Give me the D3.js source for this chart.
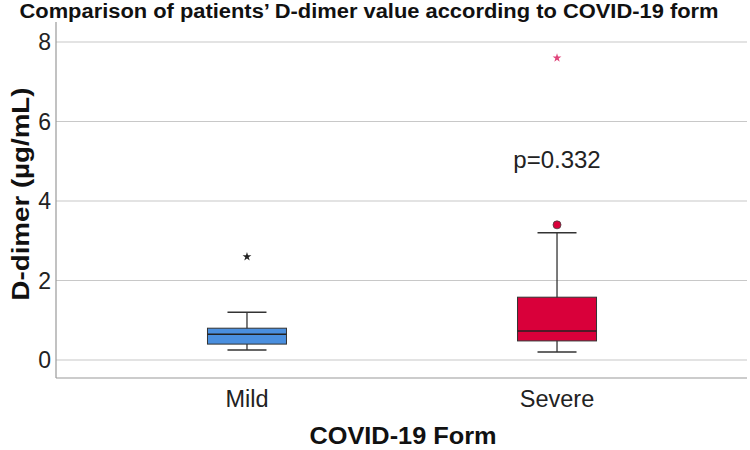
<!DOCTYPE html>
<html>
<head>
<meta charset="utf-8">
<script src="https://cdn.jsdelivr.net/npm/d3@7"></script>
<style>
  body { margin: 0; background: #fff; }
  svg { font-family: "Liberation Sans", Arial, sans-serif; }
</style>
</head>
<body>
<div id="chart"></div>
<script>
// values
const groups = ["Mild", "Severe"];
const q1 = [0.4, 0.48];
const medians = [0.65, 0.73];
const q3 = [0.8, 1.58];
const whiskerLow = [0.25, 0.2];
const whiskerHigh = [1.2, 3.2];
const outliers = [[], [3.4]];      // circles
const extremes = [[2.6], [7.6]];   // stars
const yTicks = [0, 2, 4, 6, 8];
const boxColors = ["#4a8fdf", "#d9003a"];
const starColors = ["#222222", "#e0457b"];

const width = 750, height = 450;
const margin = { top: 22, right: 2, bottom: 72, left: 56 };

const svg = d3.select("#chart").append("svg")
    .attr("width", width)
    .attr("height", height);

const x = d3.scalePoint()
    .domain(groups)
    .range([margin.left, width - margin.right])
    .padding(0.616);

const y = d3.scaleLinear()
    .domain([0, 8])
    .range([360, 42]);

const bottomY = height - margin.bottom; // 378

// grid lines
svg.append("g")
    .selectAll("line")
    .data(yTicks)
    .join("line")
    .attr("x1", margin.left)
    .attr("x2", width - 3)
    .attr("y1", d => y(d))
    .attr("y2", d => y(d))
    .attr("stroke", "#c8c8c8")
    .attr("stroke-width", 1.2);

// y axis labels
svg.append("g")
    .selectAll("text")
    .data(yTicks)
    .join("text")
    .attr("x", margin.left - 5)
    .attr("y", d => y(d))
    .attr("dy", "0.36em")
    .attr("text-anchor", "end")
    .attr("font-size", 23)
    .attr("fill", "#222")
    .text(d => d);

// axis lines
svg.append("line")
    .attr("x1", margin.left).attr("x2", margin.left)
    .attr("y1", margin.top).attr("y2", bottomY)
    .attr("stroke", "#999").attr("stroke-width", 1.2);
svg.append("line")
    .attr("x1", margin.left).attr("x2", width - 3)
    .attr("y1", bottomY).attr("y2", bottomY)
    .attr("stroke", "#999").attr("stroke-width", 1.2);

// x labels
svg.append("g")
    .selectAll("text")
    .data(groups)
    .join("text")
    .attr("x", d => x(d))
    .attr("y", 407)
    .attr("text-anchor", "middle")
    .attr("font-size", 23.5)
    .attr("fill", "#222")
    .text(d => d);

// boxes
const boxW = 79, capW = 39;
const g = svg.append("g")
    .selectAll("g")
    .data(groups)
    .join("g");

g.append("line")
    .attr("x1", d => x(d)).attr("x2", d => x(d))
    .attr("y1", (d, i) => y(whiskerHigh[i]))
    .attr("y2", (d, i) => y(whiskerLow[i]))
    .attr("stroke", "#333").attr("stroke-width", 1.3);

g.selectAll(".cap")
    .data((d, i) => [whiskerLow[i], whiskerHigh[i]].map(v => ({ d, v })))
    .join("line")
    .attr("class", "cap")
    .attr("x1", e => x(e.d) - capW / 2)
    .attr("x2", e => x(e.d) + capW / 2)
    .attr("y1", e => y(e.v))
    .attr("y2", e => y(e.v))
    .attr("stroke", "#333").attr("stroke-width", 1.5);

g.append("rect")
    .attr("x", d => x(d) - boxW / 2)
    .attr("width", boxW)
    .attr("y", (d, i) => y(q3[i]))
    .attr("height", (d, i) => y(q1[i]) - y(q3[i]))
    .attr("fill", (d, i) => boxColors[i])
    .attr("stroke", "#333").attr("stroke-width", 1);

g.append("line")
    .attr("x1", d => x(d) - boxW / 2)
    .attr("x2", d => x(d) + boxW / 2)
    .attr("y1", (d, i) => y(medians[i]))
    .attr("y2", (d, i) => y(medians[i]))
    .attr("stroke", "#222").attr("stroke-width", 1.5);

// outlier circles
g.selectAll(".out")
    .data((d, i) => outliers[i].map(v => ({ d, v, i })))
    .join("circle")
    .attr("class", "out")
    .attr("cx", e => x(e.d))
    .attr("cy", e => y(e.v))
    .attr("r", 4)
    .attr("fill", e => boxColors[e.i])
    .attr("stroke", "#444").attr("stroke-width", 0.8);

// extreme stars
const star = d3.symbol().type(d3.symbolStar).size(24);
g.selectAll(".ext")
    .data((d, i) => extremes[i].map(v => ({ d, v, i })))
    .join("path")
    .attr("class", "ext")
    .attr("d", star)
    .attr("transform", e => `translate(${x(e.d)},${y(e.v)})`)
    .attr("fill", e => starColors[e.i]);

// p-value annotation
svg.append("text")
    .attr("x", x("Severe"))
    .attr("y", 168)
    .attr("text-anchor", "middle")
    .attr("font-size", 24)
    .attr("fill", "#222")
    .text("p=0.332");

// titles
svg.append("text")
    .attr("x", 369)
    .attr("y", 18)
    .attr("text-anchor", "middle")
    .attr("font-size", 20)
    .attr("font-weight", "bold")
    .attr("fill", "#111")
    .attr("textLength", 699)
    .attr("lengthAdjust", "spacingAndGlyphs")
    .text("Comparison of patients\u2019 D-dimer value according to COVID-19 form");

svg.append("text")
    .attr("x", 403)
    .attr("y", 444)
    .attr("text-anchor", "middle")
    .attr("font-size", 23)
    .attr("font-weight", "bold")
    .attr("fill", "#111")
    .attr("textLength", 187)
    .attr("lengthAdjust", "spacingAndGlyphs")
    .text("COVID-19 Form");

svg.append("text")
    .attr("transform", "translate(21,194) rotate(-90)")
    .attr("text-anchor", "middle")
    .attr("dy", "0.35em")
    .attr("font-size", 23)
    .attr("font-weight", "bold")
    .attr("fill", "#111")
    .attr("textLength", 213)
    .attr("lengthAdjust", "spacingAndGlyphs")
    .text("D-dimer (\u00b5g/mL)");
</script>
</body>
</html>
